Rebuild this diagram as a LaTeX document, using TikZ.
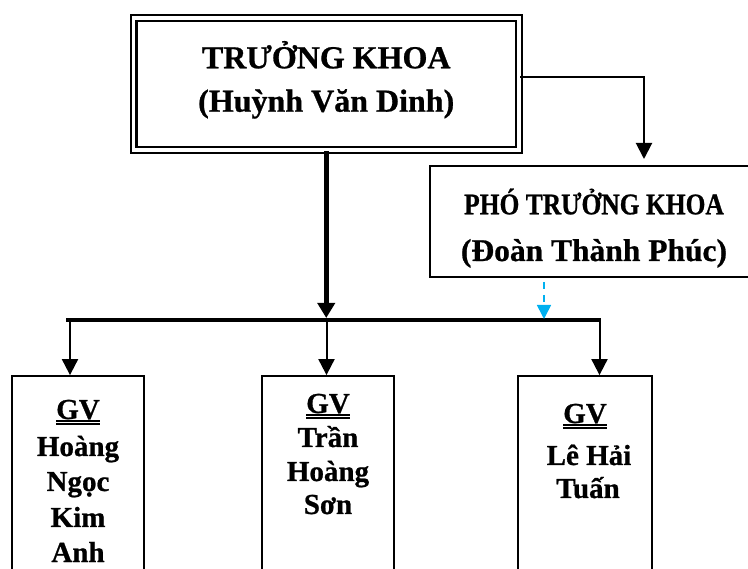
\documentclass[tikz,border=0pt]{standalone}
\usepackage{fontspec}
\setmainfont{Liberation Serif}[BoldFeatures={FakeBold=0.8}]
\usepackage{graphicx}
\usetikzlibrary{arrows.meta}
\definecolor{arrowblue}{HTML}{00B0F0}
\begin{document}
\begin{tikzpicture}[x=1pt,y=-1pt,
  every node/.style={inner sep=0pt},
  headbox/.style={draw, double, double distance=3.2pt, line width=2.4pt},
  plainbox/.style={draw, line width=1.8pt},
  linetext/.style={anchor=base},
  headfont/.style={font=\fontsize{32}{38}\selectfont\bfseries},
  phofont/.style={font=\fontsize{30}{36}\selectfont\bfseries},
  phofontb/.style={font=\fontsize{31.5}{36}\selectfont\bfseries},
  gvfont/.style={font=\fontsize{29}{35}\selectfont\bfseries},
  uline/.style={line width=1.2pt},
  thinarr/.style={line width=2pt, -{Triangle[width=16pt,length=16pt]}},
  thickarr/.style={line width=5pt, -{Triangle[width=17pt,length=15pt]}},
  bluearr/.style={line width=1.6pt, draw=arrowblue, dash pattern=on 7pt off 6pt, -{Triangle[width=14pt,length=14pt]}}
]
\clip (0,0) rectangle (748,569);

% head box
\node[headbox, minimum width=385.5pt, minimum height=132pt] (head) at (326.25,84) {};
\node[linetext, headfont] (headA) at (326.25,68.3) {TRƯỞNG KHOA};
\node[linetext, headfont] (headB) at (326.25,111.7) {(Huỳnh Văn Dinh)};

% deputy box
\node[plainbox, minimum width=330pt, minimum height=111pt] (pho) at (595,221.5) {};
\node[linetext, phofont] (phoA) at (594,214.3) {\scalebox{0.85}[1]{PHÓ TRƯỞNG KHOA}};
\node[linetext, phofontb] (phoB) at (594,261) {(Đoàn Thành Phúc)};

% lecturer boxes
\node[plainbox, minimum width=132pt, minimum height=260pt] (b1) at (78,506) {};
\node[plainbox, minimum width=132pt, minimum height=260pt] (b2) at (328,506) {};
\node[plainbox, minimum width=134pt, minimum height=260pt] (b3) at (585,506) {};

% box 1 text
\node[linetext, gvfont] (g1) at (78,419) {GV};
\node[linetext, gvfont] (t1a) at (78,456) {Hoàng};
\node[linetext, gvfont] (t1b) at (78,491) {Ngọc};
\node[linetext, gvfont] (t1c) at (78,527) {Kim};
\node[linetext, gvfont] (t1d) at (78,562) {Anh};

% box 2 text
\node[linetext, gvfont] (g2) at (328,413) {GV};
\node[linetext, gvfont] (t2a) at (328,447) {Trần};
\node[linetext, gvfont] (t2b) at (328,481) {Hoàng};
\node[linetext, gvfont] (t2c) at (328,514) {Sơn};

% box 3 text
\node[linetext, gvfont] (g3) at (585,423) {GV};
\node[linetext, gvfont] (t3a) at (589,465) {Lê Hải};
\node[linetext, gvfont] (t3b) at (588,498) {Tuấn};

% double underlines
\foreach \g in {g1,g2,g3}{
  \draw[uline] ([yshift=-2pt]\g.base west) -- ([yshift=-2pt]\g.base east);
  \draw[uline] ([yshift=-5pt]\g.base west) -- ([yshift=-5pt]\g.base east);
}

% connector head -> deputy
\coordinate (c1) at (644,159);
\draw[thinarr] ([yshift=7pt]head.east) -| (c1);

% main thick arrow
\coordinate (tk) at (326.25,318);
\draw[thickarr] (head.south) -- (tk);

% horizontal bar
\coordinate (barL) at (66,320);
\coordinate (barR) at (601,320);
\draw[line width=4pt] (barL) -- (barR);

% branch arrows
\coordinate (a1) at (70,320);
\coordinate (a2) at (326.5,320);
\coordinate (a3) at (599.5,320);
\draw[thinarr] (a1) -- (a1 |- b1.north);
\draw[thinarr] (a2) -- (a2 |- b2.north);
\draw[thinarr] (a3) -- (a3 |- b3.north);

% blue dashed arrow
\coordinate (bs) at (544,282);
\coordinate (be) at (544,319);
\draw[bluearr] (bs) -- (be);
\end{tikzpicture}
\end{document}
